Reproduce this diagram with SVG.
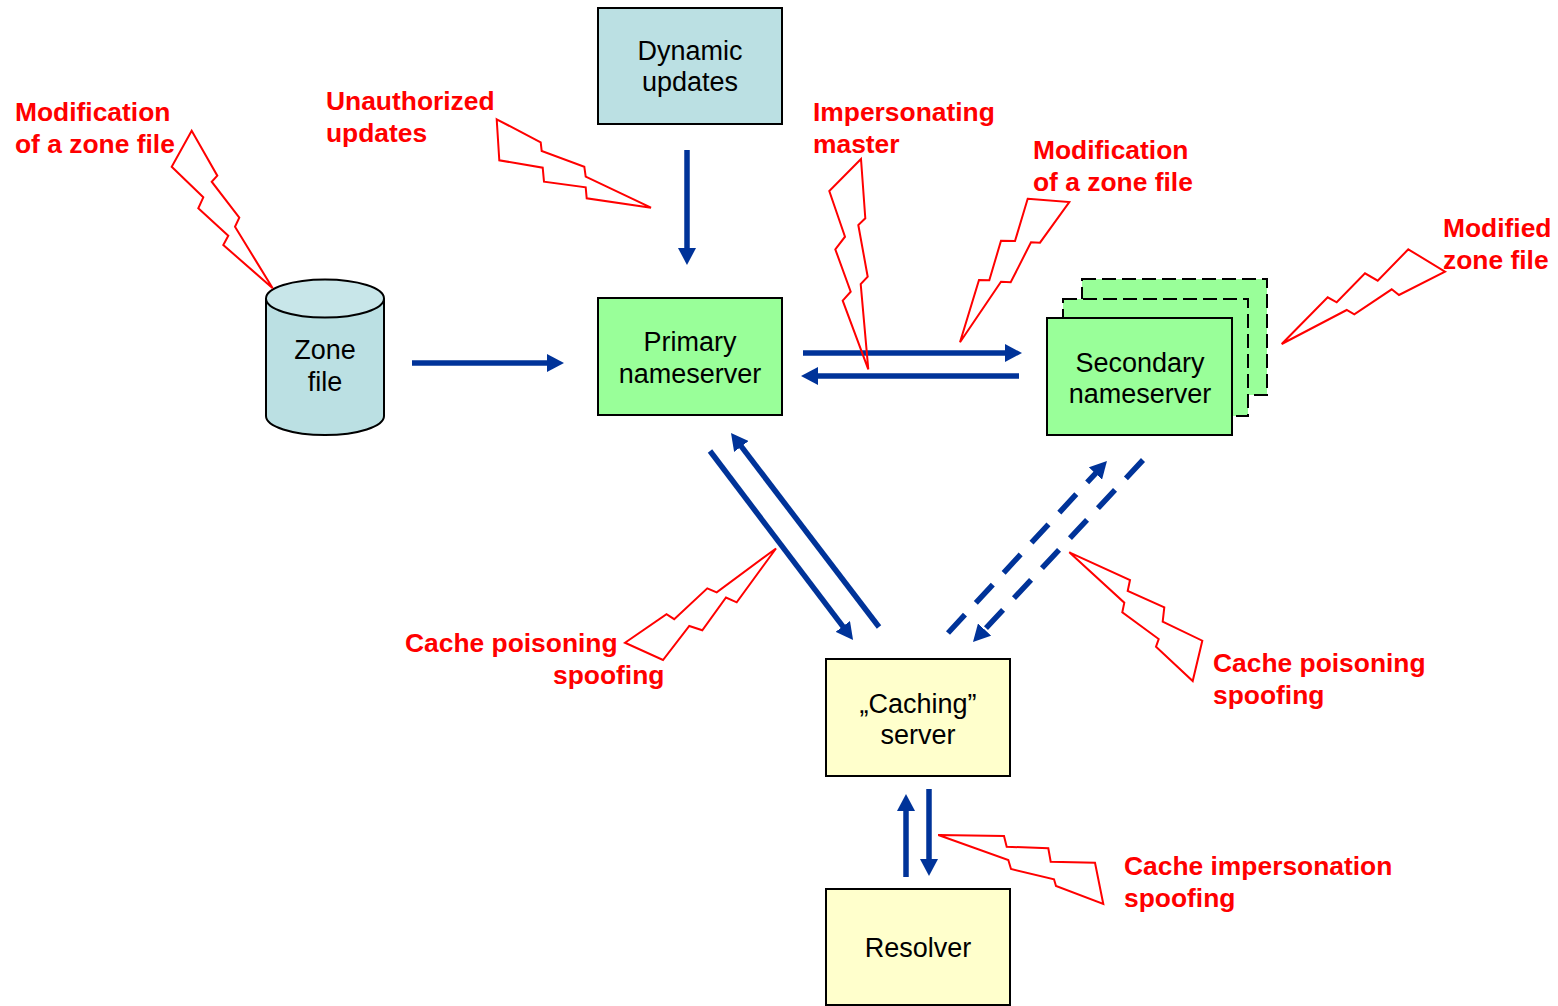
<svg xmlns="http://www.w3.org/2000/svg" width="1558" height="1006" viewBox="0 0 1558 1006">
  <style>
    .box { stroke: #000; stroke-width: 2; }
    .cyan { fill: #BBE0E3; }
    .green { fill: #99FF99; }
    .yellow { fill: #FFFFCC; }
    .dash { stroke-dasharray: 14 6; }
    .label { font-family: "Liberation Sans", Arial, sans-serif; font-size: 27px; fill: #000; text-anchor: middle; }
    .threat { font-family: "Liberation Sans", Arial, sans-serif; font-size: 26.4px; font-weight: bold; fill: #FF0000; }
    .bolt { fill: none; stroke: #FF0000; stroke-width: 2; stroke-linejoin: miter; }
    .flow { fill: none; stroke: #003399; stroke-width: 5.5; marker-end: url(#head); }
    .flow.dashed { stroke-dasharray: 25 16; }
  </style>
  <defs>
    <marker id="head" viewBox="0 0 17 18" refX="1" refY="9" markerWidth="17" markerHeight="18" markerUnits="userSpaceOnUse" orient="auto">
      <path d="M0,0 L17,9 L0,18 z" fill="#003399"/>
    </marker>
  </defs>

  <rect width="1558" height="1006" fill="#fff"/>

  <!-- nodes -->
  <g id="dynamic-updates">
    <rect class="box cyan" x="598" y="8" width="184" height="116"/>
    <text class="label" x="690" y="60">Dynamic</text>
    <text class="label" x="690" y="91">updates</text>
  </g>

  <g id="zone-file">
    <path class="box cyan" d="M266,298.5 L266,416 A59,19 0 0 0 384,416 L384,298.5"/>
    <ellipse class="box" cx="325" cy="298.5" rx="59" ry="19" fill="#C8E6E9"/>
    <text class="label" x="325" y="359">Zone</text>
    <text class="label" x="325" y="391">file</text>
  </g>

  <g id="primary-nameserver">
    <rect class="box green" x="598" y="298" width="184" height="117"/>
    <text class="label" x="690" y="351">Primary</text>
    <text class="label" x="690" y="383">nameserver</text>
  </g>

  <g id="secondary-nameserver">
    <rect class="box green dash" x="1082" y="279" width="185" height="116"/>
    <rect class="box green dash" x="1063" y="299" width="185" height="117"/>
    <rect class="box green" x="1047" y="318" width="185" height="117"/>
    <text class="label" x="1140" y="372">Secondary</text>
    <text class="label" x="1140" y="403">nameserver</text>
  </g>

  <g id="caching-server">
    <rect class="box yellow" x="826" y="659" width="184" height="117"/>
    <text class="label" x="918" y="713">„Caching”</text>
    <text class="label" x="918" y="744">server</text>
  </g>

  <g id="resolver">
    <rect class="box yellow" x="826" y="889" width="184" height="116"/>
    <text class="label" x="918" y="957">Resolver</text>
  </g>

  <!-- connectors -->
  <g id="connectors">
    <line class="flow" x1="412" y1="363" x2="548" y2="363"/>
    <line class="flow" x1="687" y1="150" x2="687" y2="249"/>
    <line class="flow" x1="803" y1="353" x2="1006" y2="353"/>
    <line class="flow" x1="1019" y1="376" x2="817" y2="376"/>
    <line class="flow" x1="710" y1="451" x2="843.4" y2="627.2"/>
    <line class="flow" x1="879" y1="627" x2="740.7" y2="445.7"/>
    <line class="flow dashed" x1="948" y1="633" x2="1096.1" y2="472.8"/>
    <line class="flow dashed" x1="1143" y1="460" x2="983.9" y2="630.3"/>
    <line class="flow" x1="906" y1="877" x2="906" y2="810"/>
    <line class="flow" x1="929" y1="789" x2="929" y2="860"/>
  </g>

  <!-- attack bolts -->
  <g id="threat-zone-file">
    <polygon class="bolt" points="191.7,130.7 171.7,166.7 203.3,197.3 198.3,208.3 228.3,235.7 223.3,245 272.7,288.3 235,226.7 239.3,217.7 211.7,181.7 217.3,175.7"/>
    <text class="threat" x="15" y="121">Modification</text>
    <text class="threat" x="15" y="153">of a zone file</text>
  </g>

  <g id="threat-unauthorized-updates">
    <polygon class="bolt" points="496.7,119.3 540.7,142.3 541.7,151 584.3,166.7 585.7,176.7 651,207.7 586.7,198.3 585.7,187.3 544,181.7 542.7,167.7 499.3,160.3"/>
    <text class="threat" x="326" y="110">Unauthorized</text>
    <text class="threat" x="326" y="142">updates</text>
  </g>

  <g id="threat-impersonating-master">
    <polygon class="bolt" points="861,159 829.3,191 845,236.7 835.3,249.3 850.7,291.7 842.7,300.7 868.3,369.3 860.7,284 867.7,276.7 858.3,225 865.3,218.3"/>
    <text class="threat" x="813" y="121">Impersonating</text>
    <text class="threat" x="813" y="153">master</text>
  </g>

  <g id="threat-transfer-modification">
    <polygon class="bolt" points="1027.7,198.7 1069.3,202 1040,242.7 1031,242.3 1010.7,282.3 1001,281.7 960,342.3 979,280 989.3,280.3 1001,240.7 1015,241"/>
    <text class="threat" x="1033" y="159">Modification</text>
    <text class="threat" x="1033" y="191">of a zone file</text>
  </g>

  <g id="threat-modified-zone-file">
    <polygon class="bolt" points="1408.3,249.3 1445,271.7 1399,295 1391.7,289.3 1354.3,314.3 1346.7,310 1281.7,344 1327.7,297.3 1336.7,302.3 1365,273.3 1377.7,280.7"/>
    <text class="threat" x="1443" y="237">Modified</text>
    <text class="threat" x="1443" y="269">zone file</text>
  </g>

  <g id="threat-cache-poisoning-primary">
    <polygon class="bolt" points="776,548.5 736.7,602.3 726,597.5 702.3,630.3 689.3,626 663,660 625,642.7 666.5,614.2 674.2,619.2 707.3,588.3 716.7,592.3"/>
    <text class="threat" x="405" y="652">Cache poisoning</text>
    <text class="threat" x="553" y="684">spoofing</text>
  </g>

  <g id="threat-cache-poisoning-secondary">
    <polygon class="bolt" points="1069.3,552.3 1130,580 1127.7,591 1164.3,607.3 1162.7,621.7 1202.3,640.7 1192.7,681 1156,646.7 1158.7,639 1122.3,612.3 1124.3,602.7"/>
    <text class="threat" x="1213" y="672">Cache poisoning</text>
    <text class="threat" x="1213" y="704">spoofing</text>
  </g>

  <g id="threat-cache-impersonation">
    <polygon class="bolt" points="938.3,835 1004,836 1006.7,846.7 1048.3,848.3 1050.7,861.7 1095,862.7 1103.3,904 1056,886 1054,879.3 1011,869 1008.3,860"/>
    <text class="threat" x="1124" y="875">Cache impersonation</text>
    <text class="threat" x="1124" y="907">spoofing</text>
  </g>
</svg>
